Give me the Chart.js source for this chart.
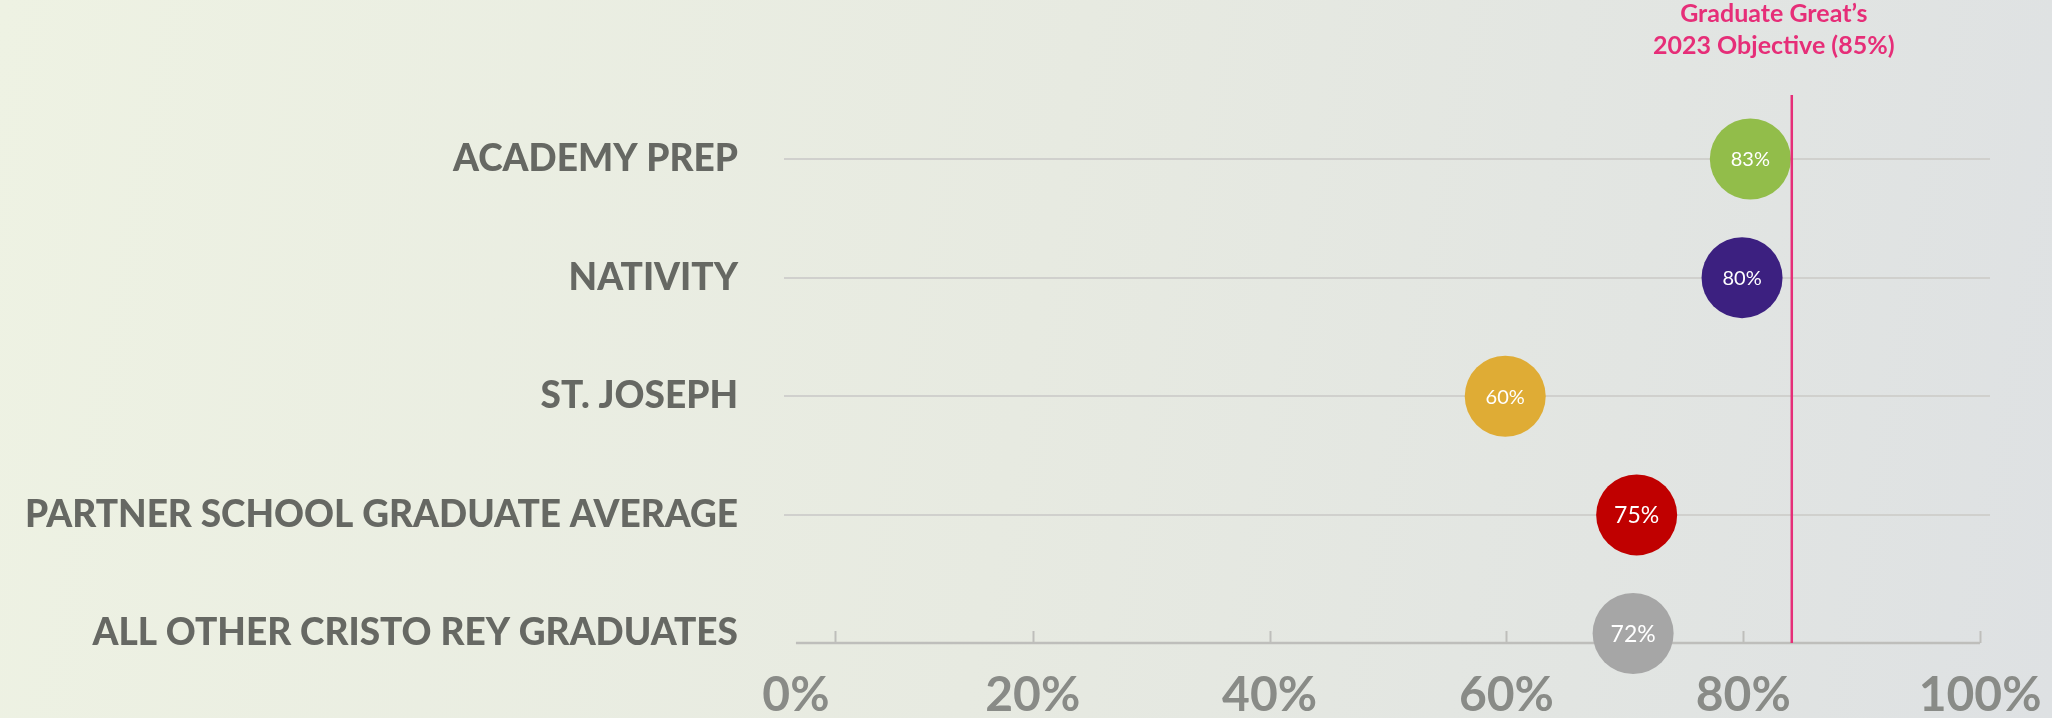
<!DOCTYPE html>
<html>
<head>
<meta charset="utf-8">
<script src="https://cdn.jsdelivr.net/npm/chart.js@4.4.0/dist/chart.umd.min.js"></script>
<style>
  html, body { margin: 0; padding: 0; }
  body {
    width: 2052px; height: 718px; overflow: hidden;
    background: linear-gradient(100deg, #eef2e3 0%, #e7eae1 50%, #dee1e3 100%);
  }
  #wrap { position: relative; width: 2052px; height: 718px; }
</style>
</head>
<body>
<div id="wrap"><canvas id="c" width="2052" height="718"></canvas></div>
<script>
// ---- data ----
const categories = [
  'ACADEMY PREP',
  'NATIVITY',
  'ST. JOSEPH',
  'PARTNER SCHOOL GRADUATE AVERAGE',
  'ALL OTHER CRISTO REY GRADUATES'
];
// horizontal position of each bubble, in % on the x axis (as drawn)
const positions = [80.6, 79.9, 59.9, 71.0, 70.7];
// value printed inside each bubble
const valueLabels = ['83%', '80%', '60%', '75%', '72%'];
const xTickValues = [0, 20, 40, 60, 80, 100];
const objectiveValue = 84.1;
const objectiveTitle = ['Graduate Great\u2019s', '2023 Objective (85%)'];

// ---- styles ----
const bubbleColors = ['#92bd4a', '#3c2080', '#dfac35', '#c00000', '#a6a6a6'];
const labelFontSizes = [20, 20, 20, 23, 23];
const PINK = '#e62e78';
const FONT = 'Lato, "Noto Sans", sans-serif';

const overlay = {
  id: 'overlay',
  beforeDatasetsDraw(chart) {
    const ctx = chart.ctx, xs = chart.scales.x, area = chart.chartArea;
    const y = area.bottom;
    ctx.save();
    ctx.strokeStyle = '#bebebb';
    ctx.lineWidth = 2.5;
    ctx.beginPath();
    ctx.moveTo(xs.getPixelForValue(0), y);
    ctx.lineTo(xs.getPixelForValue(100), y);
    ctx.stroke();
    ctx.lineWidth = 2;
    xTickValues.forEach(v => {
      const px = Math.round(xs.getPixelForValue(v === 0 ? 3.3 : v)) + 0.5;
      ctx.beginPath();
      ctx.moveTo(px, y);
      ctx.lineTo(px, y - 12);
      ctx.stroke();
    });
    ctx.restore();
  },
  afterDatasetsDraw(chart) {
    const ctx = chart.ctx, xs = chart.scales.x, area = chart.chartArea;
    ctx.save();
    // objective line
    const lx = xs.getPixelForValue(objectiveValue);
    ctx.strokeStyle = PINK;
    ctx.lineWidth = 2.5;
    ctx.beginPath();
    ctx.moveTo(lx, 95);
    ctx.lineTo(lx, area.bottom);
    ctx.stroke();
    // objective title
    ctx.fillStyle = PINK;
    ctx.font = 'bold 25px ' + FONT;
    ctx.textAlign = 'center';
    ctx.textBaseline = 'alphabetic';
    ctx.fillText(objectiveTitle[0], lx - 18, 22);
    ctx.fillText(objectiveTitle[1], lx - 18, 54);
    // bubble labels
    const meta = chart.getDatasetMeta(0);
    meta.data.forEach((pt, i) => {
      ctx.fillStyle = '#ffffff';
      ctx.font = labelFontSizes[i] + 'px ' + FONT;
      ctx.textAlign = 'center';
      ctx.textBaseline = 'middle';
      ctx.fillText(valueLabels[i], pt.x, pt.y + 1);
    });
    ctx.restore();
  }
};

new Chart(document.getElementById('c'), {
  type: 'scatter',
  data: {
    datasets: [{
      data: positions.map((x, i) => ({ x: x, y: i })),
      pointBackgroundColor: bubbleColors,
      pointBorderWidth: 0,
      pointRadius: 40.5,
      pointHoverRadius: 40.5,
      clip: false
    }]
  },
  options: {
    responsive: false,
    animation: false,
    events: [],
    layout: { padding: { top: 159, right: 62, left: 0, bottom: 0 } },
    plugins: { legend: { display: false }, tooltip: { enabled: false }, title: { display: false } },
    scales: {
      x: {
        type: 'linear',
        min: -1.01,
        max: 100.84,
        afterBuildTicks: s => { s.ticks = xTickValues.map(v => ({ value: v })); },
        afterFit: s => { s.height = 75; s.paddingLeft = 0; s.paddingRight = 0; },
        grid: { display: false, drawTicks: false },
        border: { display: false },
        ticks: {
          callback: v => v + '%',
          color: '#898b87',
          font: { family: FONT, size: 48, weight: 'bold' },
          padding: 24,
          autoSkip: false,
          maxRotation: 0
        }
      },
      y: {
        type: 'linear',
        reverse: true,
        min: 0,
        max: 4.08,
        afterBuildTicks: s => { s.ticks = categories.map((c, i) => ({ value: i })); },
        afterFit: s => { s.width = 784; s.paddingTop = 0; s.paddingBottom = 0; },
        grid: {
          color: ctx => ctx.index < categories.length - 1 ? '#d0d0cd' : 'rgba(0,0,0,0)',
          lineWidth: 2,
          drawTicks: false
        },
        border: { display: false },
        ticks: {
          callback: v => categories[v],
          color: '#666863',
          font: { family: FONT, size: 37, weight: '900' },
          padding: 46,
          autoSkip: false
        }
      }
    }
  },
  plugins: [overlay]
});
</script>
</body>
</html>
